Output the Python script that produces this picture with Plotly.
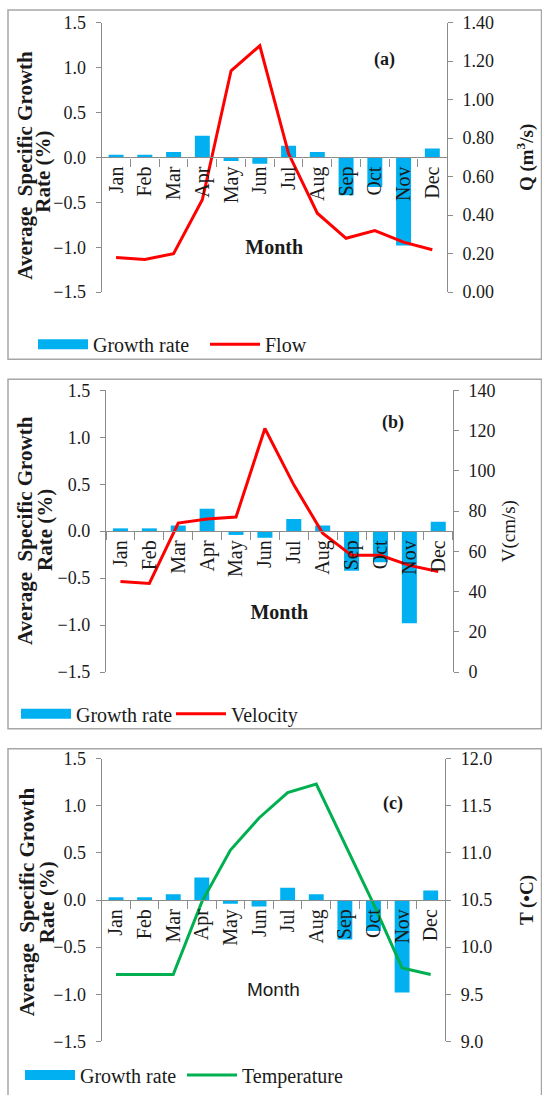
import plotly.graph_objects as go

# ---- data ----
months = ["Jan", "Feb", "Mar", "Apr", "May", "Jun",
          "Jul", "Aug", "Sep", "Oct", "Nov", "Dec"]
growth_rate = [0.03, 0.03, 0.06, 0.24, -0.04, -0.07,
               0.13, 0.06, -0.42, -0.33, -0.98, 0.10]
flow = [0.18, 0.17, 0.20, 0.48, 1.15, 1.28,
        0.72, 0.41, 0.28, 0.32, 0.26, 0.22]
velocity = [45, 44, 74, 76, 77, 121, 93, 69, 58, 58, 53, 50]
temperature = [9.71, 9.71, 9.71, 10.48, 11.03, 11.37,
               11.64, 11.73, 11.10, 10.46, 9.78, 9.71]

left_ticks = [-1.5, -1.0, -0.5, 0.0, 0.5, 1.0, 1.5]
flow_ticks = [0.0, 0.2, 0.4, 0.6, 0.8, 1.0, 1.2, 1.4]
velocity_ticks = [0, 20, 40, 60, 80, 100, 120, 140]
temperature_ticks = [9.0, 9.5, 10.0, 10.5, 11.0, 11.5, 12.0]

# ---- page geometry (pixels) ----
W, H = 542, 1095
BLUE = "#00B0F0"
AXIS = "#8C8C8C"
FRAME = "#A6A6A6"
SERIF = "Liberation Serif"
SANS = "Liberation Sans"
INK = "#1A1A1A"


def fx(px):
    return px / W


def fy(py):
    return 1 - py / H


panels = [
    dict(tag="(a)", series=flow, name="Flow", color="#FF0000",
         rtitle="<b>Q (m<sup>3</sup>/s)</b>", rticks=flow_ticks, rfmt=".2f",
         rrange=[0, 1.4], plot=(101.7, 446.7, 22.7, 292.7), rstand=26,
         frame=(8, 10, 360), legend_xy=(33, 345), label_xy=(384, 60),
         month_font=dict(family=SERIF, size=20, color=INK), month_bold=True,
         month_stand=37, entry=107,
         ytitle_xy=((25, 166), (43, 172))),
    dict(tag="(b)", series=velocity, name="Velocity", color="#FF0000",
         rtitle="V(cm/s)", rticks=velocity_ticks, rfmt="d",
         rrange=[0, 140], plot=(106.0, 452.7, 391.0, 673.3), rstand=7,
         frame=(8, 380, 730), legend_xy=(16, 715), label_xy=(393, 423),
         month_font=dict(family=SERIF, size=20, color=INK), month_bold=True,
         month_stand=28, entry=90,
         ytitle_xy=((25, 532), (45, 531))),
    dict(tag="(c)", series=temperature, name="Temperature", color="#00B050",
         rtitle="<b>T (•C)</b>", rticks=temperature_ticks, rfmt=".1f",
         rrange=[9.0, 12.0], plot=(101.7, 445.0, 760.0, 1043.3), rstand=28,
         frame=(8, 750, 1100), legend_xy=(20, 1077), label_xy=(393, 805),
         month_font=dict(family=SANS, size=19, color=INK), month_bold=False,
         month_stand=37, entry=97,
         ytitle_xy=((27, 904), (47, 904))),
]

fig = go.Figure()
layout = dict(
    width=W, height=H,
    margin=dict(l=0, r=0, t=0, b=0),
    paper_bgcolor="white", plot_bgcolor="white",
    font=dict(family=SERIF, size=18, color=INK),
    bargap=0.48,
    shapes=[], annotations=[],
)

for i, p in enumerate(panels, start=1):
    xa = "x" if i == 1 else f"x{i}"
    yl_id = 2 * i - 1
    yr_id = 2 * i
    yl = "y" if yl_id == 1 else f"y{yl_id}"
    yr = f"y{yr_id}"
    leg = "legend" if i == 1 else f"legend{i}"

    x0, x1, y0, y1 = p["plot"]
    ydom = [fy(y1), fy(y0)]
    xdom = [fx(x0), fx(x1)]

    # growth-rate bars on the left axis
    fig.add_trace(go.Bar(
        x=months, y=growth_rate, xaxis=xa, yaxis=yl,
        marker=dict(color=BLUE, line=dict(width=0)),
        name="Growth rate", showlegend=False, legend=leg,
    ))
    # legend entry for the bars, drawn as a wide swatch
    fig.add_trace(go.Scatter(
        x=[None], y=[None], xaxis=xa, yaxis=yl, mode="lines",
        line=dict(color=BLUE, width=11),
        name="Growth rate", legend=leg,
    ))
    # environmental series on the right axis
    fig.add_trace(go.Scatter(
        x=months, y=p["series"], xaxis=xa, yaxis=yr, mode="lines",
        line=dict(color=p["color"], width=3),
        name=p["name"], legend=leg,
    ))

    month_text = "<b>Month</b>" if p["month_bold"] else "Month"
    layout["xaxis" if i == 1 else f"xaxis{i}"] = dict(
        domain=xdom, anchor="free",
        position=(ydom[0] + ydom[1]) / 2,
        showline=True, linecolor=AXIS, linewidth=1.3,
        ticks="outside", tickson="boundaries", ticklen=8,
        tickcolor=AXIS, tickwidth=1.3,
        tickangle=-90, tickfont=dict(family=SERIF, size=20, color=INK),
        showgrid=False, zeroline=False, automargin=False,
        title=dict(text=month_text, font=p["month_font"],
                   standoff=p["month_stand"]),
    )
    layout["yaxis" if yl_id == 1 else f"yaxis{yl_id}"] = dict(
        domain=ydom, anchor=xa, range=[-1.5, 1.5],
        tickvals=left_ticks, tickformat=".1f",
        showline=True, linecolor=AXIS, linewidth=1.3,
        ticks="outside", ticklen=5, tickcolor=AXIS, tickwidth=1.3,
        tickfont=dict(family=SERIF, size=18, color=INK),
        ticklabelstandoff=6,
        showgrid=False, zeroline=False, automargin=False,
    )
    layout[f"yaxis{yr_id}"] = dict(
        domain=ydom, anchor=xa, overlaying=yl, side="right",
        range=p["rrange"], tickvals=p["rticks"], tickformat=p["rfmt"],
        showline=True, linecolor=AXIS, linewidth=1.3,
        ticks="outside", ticklen=5, tickcolor=AXIS, tickwidth=1.3,
        tickfont=dict(family=SERIF, size=18, color=INK),
        ticklabelstandoff=6,
        showgrid=False, zeroline=False, automargin=False,
        title=dict(text=p["rtitle"],
                   font=dict(family=SERIF, size=19, color=INK),
                   standoff=p["rstand"]),
    )

    # two-line growth-rate axis title, set as rotated text
    (t1x, t1y), (t2x, t2y) = p["ytitle_xy"]
    for txt, tx, ty in (("<b>Average  Specific Growth</b>", t1x, t1y),
                        ("<b>Rate (%)</b>", t2x, t2y)):
        layout["annotations"].append(dict(
            text=txt, xref="paper", yref="paper", x=fx(tx), y=fy(ty),
            xanchor="center", yanchor="middle", textangle=-90,
            showarrow=False, font=dict(family=SERIF, size=21, color=INK),
        ))

    lx, ly = p["legend_xy"]
    layout[leg] = dict(
        x=fx(lx), y=fy(ly), xanchor="left", yanchor="middle",
        orientation="h", bgcolor="rgba(0,0,0,0)",
        font=dict(family=SERIF, size=20, color=INK),
        itemwidth=50, entrywidthmode="pixels", entrywidth=p["entry"],
        tracegroupgap=0,
    )

    fl, ft, fb = p["frame"]
    layout["shapes"].append(dict(
        type="rect", xref="paper", yref="paper",
        x0=fx(fl), x1=fx(541.5), y0=fy(fb), y1=fy(ft),
        line=dict(color=FRAME, width=1.5), fillcolor="rgba(0,0,0,0)",
        layer="below",
    ))

    ax_, ay_ = p["label_xy"]
    layout["annotations"].append(dict(
        text=f"<b>{p['tag']}</b>", xref="paper", yref="paper",
        x=fx(ax_), y=fy(ay_), xanchor="center", yanchor="middle",
        showarrow=False, font=dict(family=SERIF, size=18, color=INK),
    ))

fig.update_layout(**layout)
fig.write_html("out.html")
